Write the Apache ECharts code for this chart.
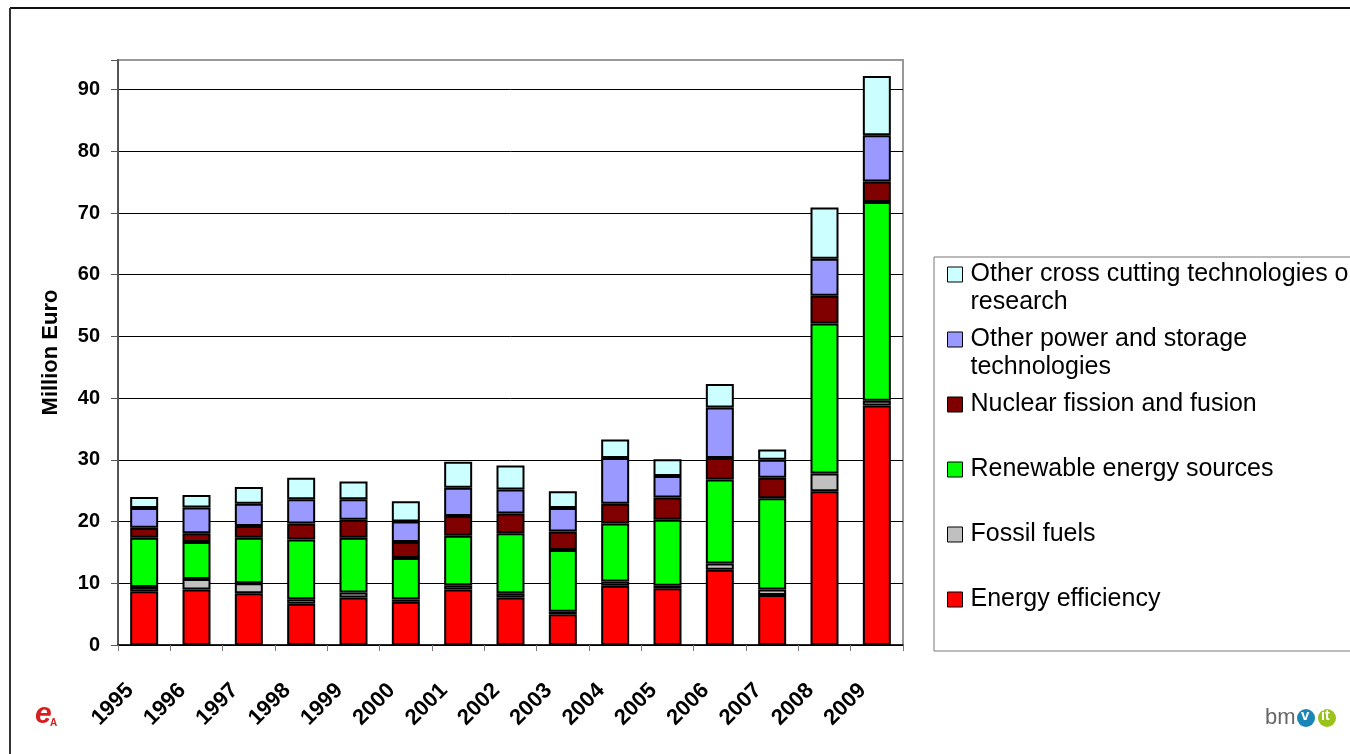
<!DOCTYPE html>
<html>
<head>
<meta charset="utf-8">
<title>Energy research funding 1995-2009</title>
<script src="https://cdn.jsdelivr.net/npm/echarts@6/dist/echarts.min.js"></script>
<style>
  html, body { margin: 0; padding: 0; background: #fff; }
  #chart { width: 1350px; height: 754px; }
</style>
</head>
<body>
<div id="chart"></div>
<script>
// categories
const years = ['1995', '1996', '1997', '1998', '1999', '2000', '2001', '2002',
  '2003', '2004', '2005', '2006', '2007', '2008', '2009'];

// series values, Million Euro (stacked bottom -> top)
const energyEfficiency = [8.7, 9.0, 8.4, 6.7, 7.7, 7.0, 9.0, 7.7, 5.0, 9.6, 9.2, 12.2, 8.1, 24.9, 38.8];
const fossilFuels = [0.7, 1.7, 1.6, 0.7, 0.8, 0.4, 0.7, 0.7, 0.4, 0.7, 0.4, 1.0, 0.9, 2.9, 0.8];
const renewableEnergy = [8.0, 6.0, 7.4, 9.7, 8.9, 6.7, 8.0, 9.7, 10.0, 9.4, 10.7, 13.6, 14.8, 24.3, 32.2];
const nuclear = [1.6, 1.4, 1.9, 2.6, 2.9, 2.6, 3.2, 3.2, 3.0, 3.2, 3.6, 3.5, 3.3, 4.5, 3.3];
const otherPower = [3.2, 4.2, 3.6, 3.9, 3.3, 3.3, 4.6, 3.9, 3.8, 7.4, 3.5, 8.2, 2.9, 6.0, 7.5];
const crossCutting = [1.8, 2.0, 2.7, 3.5, 2.9, 3.3, 4.2, 3.9, 2.7, 3.0, 2.7, 3.8, 1.7, 8.3, 9.6];

// y tick labels
const yTicks = [0, 10, 20, 30, 40, 50, 60, 70, 80, 90];

const seriesNames = [
  'Energy efficiency',
  'Fossil fuels',
  'Renewable energy sources',
  'Nuclear fission and fusion',
  'Other power and storage\ntechnologies',
  'Other cross cutting technologies or\nresearch'
];
const seriesData = [energyEfficiency, fossilFuels, renewableEnergy, nuclear, otherPower, crossCutting];
const seriesColors = ['#ff0000', '#c0c0c0', '#00ff00', '#800000', '#9999ff', '#ccffff'];

const font = 'Arial, "Liberation Sans", Helvetica, sans-serif';

const chart = echarts.init(document.getElementById('chart'));

chart.setOption({
  animation: false,
  backgroundColor: '#fff',
  grid: {
    left: 118,
    right: 447,
    top: 60,
    bottom: 109,
    show: true,
    borderColor: '#999',
    borderWidth: 2,
    backgroundColor: '#fff'
  },
  xAxis: {
    type: 'category',
    data: years,
    axisLine: { lineStyle: { color: '#000', width: 1.5 } },
    axisTick: { show: true, length: 6, lineStyle: { color: '#777' } },
    axisLabel: {
      rotate: 45,
      margin: 28,
      padding: [0, 20, 0, 0],
      color: '#000',
      fontWeight: 'bold',
      fontSize: 22,
      fontFamily: font
    }
  },
  yAxis: {
    type: 'value',
    min: 0,
    max: 94.8,
    interval: 10,
    name: 'Million Euro',
    nameLocation: 'middle',
    nameGap: 56,
    nameTextStyle: { color: '#000', fontWeight: 'bold', fontSize: 22, fontFamily: font },
    axisLine: { show: true, lineStyle: { color: '#555', width: 2 } },
    axisTick: { show: true, length: 7, lineStyle: { color: '#555' } },
    axisLabel: {
      margin: 18,
      color: '#000',
      fontWeight: 'bold',
      fontSize: 20,
      fontFamily: font,
      formatter: (v) => (yTicks.indexOf(v) >= 0 ? String(v) : '')
    },
    splitLine: {
      show: true,
      // last line sits on the plot border, keep it border coloured
      lineStyle: { color: ['#000', '#000', '#000', '#000', '#000', '#000', '#000', '#000', '#000', '#000', '#999'], width: 1 }
    }
  },
  legend: {
    orient: 'vertical',
    left: 947,
    top: 232.5,
    padding: 0,
    itemGap: -19,
    itemWidth: 15,
    itemHeight: 15,
    icon: 'rect',
    selectedMode: false,
    itemStyle: { borderColor: '#000', borderWidth: 1 },
    // legend reads top -> bottom, reverse of stacking
    data: seriesNames.slice().reverse(),
    // three lines per item so the name's first line sits level with the marker
    formatter: (n) => (n.indexOf('\n') >= 0 ? '\n' + n : '\n' + n + '\n'),
    textStyle: { color: '#000', fontSize: 25, lineHeight: 28, fontFamily: font, padding: [0, 0, 0, 3] }
  },
  series: seriesNames.map((name, i) => ({
    name: name,
    type: 'bar',
    stack: 'total',
    barWidth: 28,
    data: seriesData[i],
    itemStyle: { color: seriesColors[i], borderColor: '#000', borderWidth: 2 }
  })),
  graphic: [
    // outer frame
    { type: 'line', shape: { x1: 10, y1: 8, x2: 1350, y2: 8 }, style: { stroke: '#111', lineWidth: 2 } },
    { type: 'line', shape: { x1: 10, y1: 8, x2: 10, y2: 754 }, style: { stroke: '#333', lineWidth: 2 } },
    // legend frame
    { type: 'rect', shape: { x: 934, y: 257, width: 500, height: 394 }, style: { fill: 'none', stroke: '#777', lineWidth: 1 }, z: -1 },
    // logos
    { type: 'text', left: 35, top: 700, style: { text: 'e', fill: '#d81e1e', font: 'italic bold 30px ' + font } },
    { type: 'text', left: 50, top: 718, style: { text: 'A', fill: '#d81e1e', font: 'bold 10px ' + font } },
    { type: 'text', left: 1265, top: 707, style: { text: 'bm', fill: '#666', font: '22px ' + font } },
    { type: 'circle', shape: { cx: 1306, cy: 718, r: 9 }, style: { fill: '#1a86b8' } },
    { type: 'text', left: 1301, top: 708, style: { text: 'v', fill: '#fff', font: 'bold 15px ' + font } },
    { type: 'circle', shape: { cx: 1327, cy: 718, r: 9 }, style: { fill: '#9bc31c' } },
    { type: 'text', left: 1321, top: 709, style: { text: 'it', fill: '#fff', font: 'bold 14px ' + font } }
  ]
});
</script>
</body>
</html>
